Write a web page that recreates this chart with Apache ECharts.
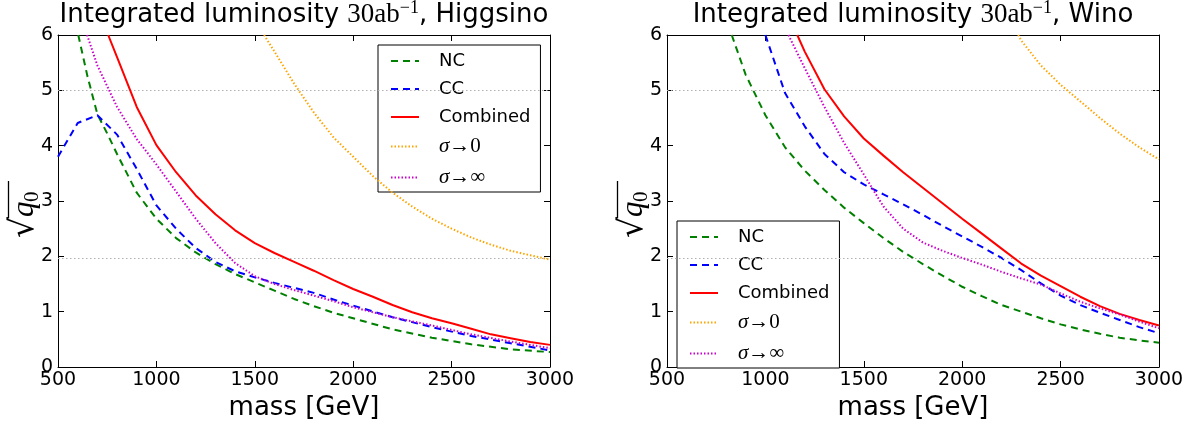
<!DOCTYPE html>
<html>
<head>
<meta charset="utf-8">
<script src="https://cdn.jsdelivr.net/npm/echarts@6/dist/echarts.min.js"></script>
<style>
  html, body { margin: 0; padding: 0; background: #fff; }
  #chart { width: 1187px; height: 426px; }
</style>
</head>
<body>
<div id="chart"></div>
<script>
// ---- data: sqrt(q0) versus mass [GeV] ----
const panelTitles = ['Higgsino', 'Wino'];
const seriesNames = ['NC', 'CC', 'Combined', 'σ→0', 'σ→∞'];
const xTicks = [500, 1000, 1500, 2000, 2500, 3000];
const yTicks = [0, 1, 2, 3, 4, 5, 6];
const refLevels = [5, 1.96];

// Higgsino
const higgsinoNCMass = [603, 650, 700, 750, 800, 900, 1000, 1100, 1200, 1300, 1400, 1500, 1600, 1700, 1800, 1900, 2000, 2200, 2400, 2600, 2800, 3000];
const higgsinoNC     = [6.0, 5.25, 4.57, 4.22, 3.85, 3.15, 2.68, 2.33, 2.07, 1.86, 1.68, 1.53, 1.38, 1.23, 1.1, 0.98, 0.88, 0.68, 0.53, 0.41, 0.32, 0.27];
const higgsinoCCMass = [500, 600, 700, 800, 900, 1000, 1100, 1200, 1300, 1400, 1500, 1600, 1700, 1800, 1900, 2000, 2200, 2400, 2600, 2800, 3000];
const higgsinoCC     = [3.8, 4.41, 4.55, 4.2, 3.58, 2.92, 2.5, 2.15, 1.9, 1.73, 1.62, 1.52, 1.43, 1.34, 1.22, 1.11, 0.9, 0.72, 0.56, 0.43, 0.3];
const higgsinoCombMass = [755, 800, 900, 1000, 1100, 1200, 1300, 1400, 1500, 1600, 1700, 1800, 1900, 2000, 2100, 2200, 2300, 2400, 2500, 2600, 2700, 2800, 2900, 3000];
const higgsinoComb     = [6.0, 5.6, 4.7, 4.01, 3.52, 3.1, 2.76, 2.47, 2.24, 2.06, 1.9, 1.74, 1.57, 1.41, 1.27, 1.12, 0.99, 0.88, 0.79, 0.69, 0.59, 0.52, 0.45, 0.4];
const higgsinoZeroMass = [1547, 1600, 1700, 1800, 1900, 2000, 2100, 2200, 2300, 2400, 2500, 2600, 2700, 2800, 2900, 3000];
const higgsinoZero     = [6.0, 5.7, 5.12, 4.6, 4.15, 3.8, 3.45, 3.15, 2.9, 2.68, 2.5, 2.34, 2.21, 2.1, 2.02, 1.94];
const higgsinoInfMass = [648, 700, 800, 900, 1000, 1100, 1200, 1300, 1400, 1500, 1600, 1700, 1800, 1900, 2000, 2200, 2400, 2600, 2800, 3000];
const higgsinoInf     = [6.0, 5.45, 4.7, 4.12, 3.66, 3.17, 2.68, 2.24, 1.88, 1.64, 1.5, 1.39, 1.29, 1.19, 1.08, 0.9, 0.75, 0.59, 0.46, 0.34];

// Wino
const winoNCMass = [829, 900, 1000, 1100, 1200, 1300, 1400, 1500, 1600, 1700, 1800, 1900, 2000, 2100, 2200, 2300, 2400, 2500, 2600, 2700, 2800, 2900, 3000];
const winoNC     = [6.0, 5.28, 4.55, 3.97, 3.55, 3.2, 2.88, 2.6, 2.33, 2.08, 1.86, 1.65, 1.45, 1.28, 1.12, 1.0, 0.88, 0.77, 0.68, 0.6, 0.53, 0.48, 0.44];
const winoCCMass = [1000, 1100, 1200, 1300, 1400, 1500, 1600, 1700, 1800, 1900, 2000, 2100, 2200, 2300, 2400, 2500, 2600, 2700, 2800, 2900, 3000];
const winoCC     = [6.0, 4.95, 4.35, 3.85, 3.52, 3.3, 3.12, 2.94, 2.75, 2.55, 2.36, 2.17, 1.97, 1.75, 1.51, 1.29, 1.12, 0.98, 0.85, 0.72, 0.61];
const winoCombMass = [1162, 1200, 1300, 1400, 1500, 1600, 1700, 1800, 1900, 2000, 2100, 2200, 2300, 2400, 2500, 2600, 2700, 2800, 2900, 3000];
const winoComb     = [6.0, 5.7, 5.02, 4.53, 4.13, 3.82, 3.52, 3.24, 2.96, 2.68, 2.41, 2.14, 1.87, 1.65, 1.46, 1.27, 1.1, 0.96, 0.85, 0.75];
const winoZeroMass = [2284, 2300, 2400, 2500, 2600, 2700, 2800, 2900, 3000];
const winoZero     = [6.0, 5.9, 5.45, 5.1, 4.8, 4.5, 4.22, 3.97, 3.75];
const winoInfMass = [1117, 1200, 1300, 1400, 1500, 1600, 1700, 1800, 1900, 2000, 2100, 2200, 2300, 2400, 2500, 2600, 2700, 2800, 2900, 3000];
const winoInf     = [6.0, 5.4, 4.7, 4.05, 3.48, 2.9, 2.5, 2.25, 2.1, 1.97, 1.85, 1.72, 1.6, 1.49, 1.33, 1.18, 1.06, 0.95, 0.82, 0.7];

const panels = [
  [[higgsinoNCMass, higgsinoNC], [higgsinoCCMass, higgsinoCC], [higgsinoCombMass, higgsinoComb],
   [higgsinoZeroMass, higgsinoZero], [higgsinoInfMass, higgsinoInf]],
  [[winoNCMass, winoNC], [winoCCMass, winoCC], [winoCombMass, winoComb],
   [winoZeroMass, winoZero], [winoInfMass, winoInf]]
];

// ---- styling ----
const SANS = 'DejaVu Sans';
const SERIF = 'Liberation Serif';
const lineStyles = [
  { color: '#008000', width: 2, type: [7, 5] },
  { color: '#0000ff', width: 2, type: [7, 5] },
  { color: '#ff0000', width: 2, type: 'solid' },
  { color: '#ffa500', width: 2, type: [1.5, 2] },
  { color: '#cc00cc', width: 2, type: [1.5, 2] }
];

const gridBoxes = [
  { left: 58, top: 35, width: 492, height: 337 },
  { left: 667, top: 35, width: 492, height: 337 }
];
const legendBoxes = [
  { left: 378, top: 45 },
  { left: 677, top: 221 }
];

const pairs = (xs, ys) => xs.map((x, i) => [x, ys[i]]);
const axisLineStyle = { show: true, onZero: false, lineStyle: { color: '#000', width: 1 } };
const tickStyle = { show: true, inside: true, length: 6, lineStyle: { color: '#000' } };

const xAxes = [], yAxes = [], series = [], legends = [], graphics = [];

gridBoxes.forEach((g, p) => {
  // bottom (labelled) and top (ticks only) x axes
  xAxes.push({
    type: 'value', gridIndex: p, position: 'bottom', min: xTicks[0], max: xTicks[xTicks.length - 1], interval: 500,
    name: 'mass [GeV]', nameLocation: 'middle', nameGap: 28,
    nameTextStyle: { fontFamily: SANS, fontSize: 26, color: '#000' },
    axisLine: axisLineStyle, axisTick: tickStyle,
    axisLabel: { fontFamily: SANS, fontSize: 19, color: '#000', margin: 4, formatter: v => String(v) },
    splitLine: { show: false }
  });
  xAxes.push({
    type: 'value', gridIndex: p, position: 'top', min: xTicks[0], max: xTicks[xTicks.length - 1], interval: 500,
    axisLine: axisLineStyle, axisTick: tickStyle,
    axisLabel: { show: false }, splitLine: { show: false }
  });
  yAxes.push({
    type: 'value', gridIndex: p, position: 'left', min: yTicks[0], max: yTicks[yTicks.length - 1], interval: 1,
    axisLine: axisLineStyle, axisTick: tickStyle,
    axisLabel: { fontFamily: SANS, fontSize: 19, color: '#000', margin: 5, formatter: v => String(v) },
    splitLine: { show: false }
  });
  yAxes.push({
    type: 'value', gridIndex: p, position: 'right', min: yTicks[0], max: yTicks[yTicks.length - 1], interval: 1,
    axisLine: axisLineStyle, axisTick: tickStyle,
    axisLabel: { show: false }, splitLine: { show: false }
  });

  panels[p].forEach(([xs, ys], s) => {
    const item = {
      type: 'line', name: seriesNames[s], xAxisIndex: p * 2, yAxisIndex: p * 2,
      data: pairs(xs, ys), showSymbol: false, symbol: 'none', clip: true,
      lineStyle: lineStyles[s], itemStyle: { color: lineStyles[s].color },
      z: 3 + s, silent: true
    };
    if (s === 0) {
      // dotted horizontal reference levels
      item.markLine = {
        silent: true, symbol: 'none', label: { show: false },
        lineStyle: { color: '#b0b0b0', type: [1.5, 2.5], width: 1 },
        data: refLevels.map(v => ({ yAxis: v }))
      };
    }
    series.push(item);
  });

  legends.push({
    data: seriesNames, orient: 'vertical', left: legendBoxes[p].left, top: legendBoxes[p].top,
    itemWidth: 28, itemHeight: 10, itemGap: 10, padding: [7, 10, 4, 12],
    borderColor: '#000', borderWidth: 1, borderRadius: 0, backgroundColor: '#fff',
    selectedMode: false,
    itemStyle: { opacity: 0 },
    textStyle: {
      fontFamily: SANS, fontSize: 18, color: '#000', padding: [0, 0, 0, 15],
      rich: {
        s: { fontFamily: SERIF, fontStyle: 'italic', fontSize: 21, color: '#000' },
        m: { fontFamily: SERIF, fontSize: 21, color: '#000' }
      }
    },
    formatter: name => name.startsWith('σ') ? '{s|σ}{m|' + name.slice(1) + '}' : name
  });

  // panel title with math part
  graphics.push({
    type: 'text', x: g.left + g.width / 2, y: 31,
    style: {
      text: '{a|Integrated luminosity }{m|30ab}{sup|−1}{a|, ' + panelTitles[p] + '}',
      align: 'center', verticalAlign: 'bottom',
      rich: {
        a: { fontFamily: SANS, fontSize: 26, color: '#000', lineHeight: 32 },
        m: { fontFamily: SERIF, fontSize: 27, color: '#000', lineHeight: 32 },
        sup: { fontFamily: SERIF, fontSize: 18, color: '#000', lineHeight: 18, verticalAlign: 'top' }
      }
    }
  });

  // y axis label: sqrt(q0), rotated to read upwards
  graphics.push({
    type: 'group', x: g.left - 35, y: 238, rotation: Math.PI / 2,
    children: [
      { type: 'text', x: 0, y: 1, style: { text: '√', fontFamily: SANS, fontSize: 33, fill: '#000', align: 'left', verticalAlign: 'middle' } },
      { type: 'text', x: 21, y: 2, style: { text: 'q', fontFamily: SERIF, fontStyle: 'italic', fontSize: 31, fill: '#000', align: 'left', verticalAlign: 'middle' } },
      { type: 'text', x: 36, y: 9, style: { text: '0', fontFamily: SERIF, fontSize: 21, fill: '#000', align: 'left', verticalAlign: 'middle' } },
      { type: 'line', shape: { x1: 19.5, y1: -14.5, x2: 57, y2: -14.5 }, style: { stroke: '#000', lineWidth: 1.3 } }
    ]
  });
});

const chart = echarts.init(document.getElementById('chart'), null, { renderer: 'canvas' });
chart.setOption({
  animation: false,
  backgroundColor: '#fff',
  grid: gridBoxes.map(g => Object.assign({ containLabel: false, show: false }, g)),
  xAxis: xAxes,
  yAxis: yAxes,
  legend: legends,
  series: series,
  graphic: graphics
});
</script>
</body>
</html>
